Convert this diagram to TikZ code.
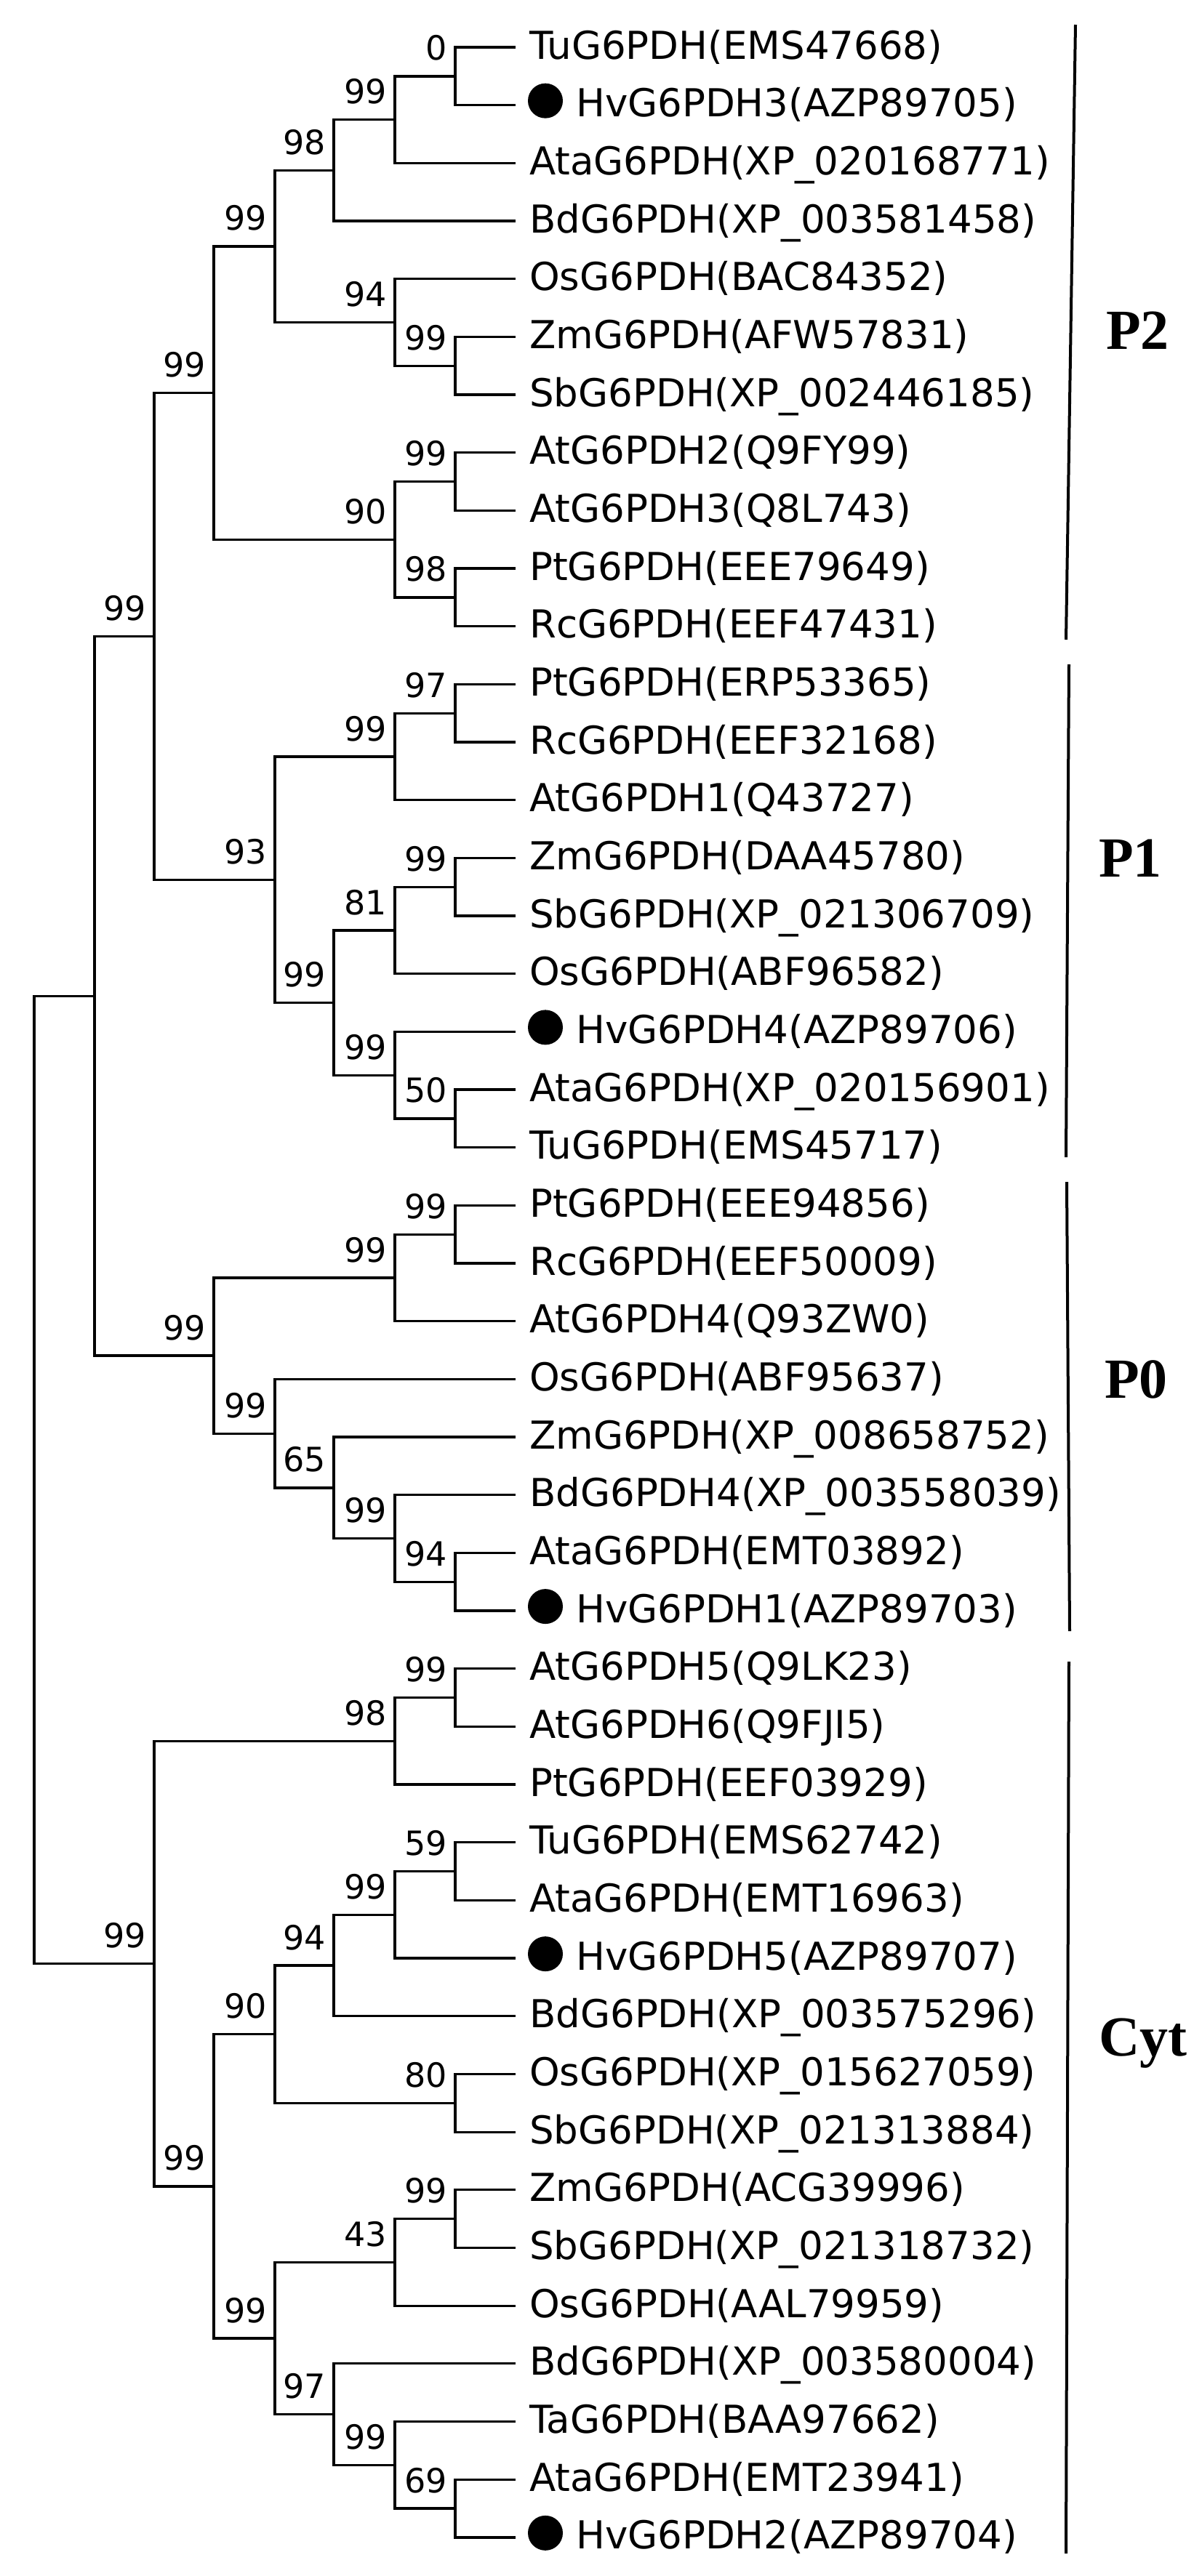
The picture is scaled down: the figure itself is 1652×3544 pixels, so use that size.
\documentclass[tikz,border=0pt]{standalone}
\usepackage{fontspec}
\setmainfont{DejaVu Sans}
\newfontfamily\cladefont{Liberation Serif}
\begin{document}
\begin{tikzpicture}[x=1pt,y=-1pt,
  br/.style={line width=3.3pt},
  leaf/.style={anchor=base west,inner sep=0pt,font=\fontsize{53}{60}\selectfont},
  bslab/.style={anchor=base east,inner sep=0pt,font=\fontsize{46}{52}\selectfont},
  dotm/.style={circle,fill=black,inner sep=0pt,minimum size=48pt},
  cbar/.style={line width=4pt},
  clab/.style={anchor=base west,inner sep=0pt,font=\cladefont\bfseries\fontsize{78}{86}\selectfont}]
\useasboundingbox (0,0) rectangle (1652,3544);
% leaf tips
\foreach \i in {0,...,43} {\coordinate (l\i) at (709,{65+79.67*\i});}
% internal nodes
\coordinate (a1) at (626,104.9);
\coordinate (a2) at (543,164.6);
\coordinate (a3) at (459,234.3);
\coordinate (a4) at (626,503.2);
\coordinate (a5) at (543,443.5);
\coordinate (a6) at (378,338.9);
\coordinate (a7) at (626,662.6);
\coordinate (a8) at (626,821.9);
\coordinate (a9) at (543,742.3);
\coordinate (a10) at (294,540.6);
\coordinate (b1) at (626,981.2);
\coordinate (b2) at (543,1041);
\coordinate (b3) at (626,1220.3);
\coordinate (b4) at (543,1280);
\coordinate (b5) at (626,1538.9);
\coordinate (b6) at (543,1479.2);
\coordinate (b7) at (459,1379.6);
\coordinate (b8) at (378,1210.3);
\coordinate (ab) at (212,875.5);
\coordinate (c1) at (626,1698.3);
\coordinate (c2) at (543,1758);
\coordinate (c3) at (626,2176.3);
\coordinate (c4) at (543,2116.6);
\coordinate (c5) at (459,2046.9);
\coordinate (c6) at (378,1972.2);
\coordinate (c7) at (294,1865.1);
\coordinate (abc) at (130,1370.3);
\coordinate (d1) at (626,2335.6);
\coordinate (d2) at (543,2395.4);
\coordinate (d3) at (626,2574.6);
\coordinate (d4) at (543,2634.4);
\coordinate (d5) at (459,2704.1);
\coordinate (d6) at (626,2893.3);
\coordinate (d7) at (378,2798.7);
\coordinate (d8) at (626,3052.7);
\coordinate (d9) at (543,3112.4);
\coordinate (d10) at (626,3451);
\coordinate (d11) at (543,3391.3);
\coordinate (d12) at (459,3321.6);
\coordinate (d13) at (378,3217);
\coordinate (d14) at (294,3007.9);
\coordinate (d15) at (212,2701.7);
\coordinate (root) at (47,2036);
% branches
\foreach \p/\c in {a1/l0,a1/l1,a2/a1,a2/l2,a3/a2,a3/l3,a4/l5,a4/l6,a5/l4,a5/a4,a6/a3,a6/a5,
  a7/l7,a7/l8,a8/l9,a8/l10,a9/a7,a9/a8,a10/a6,a10/a9,
  b1/l11,b1/l12,b2/b1,b2/l13,b3/l14,b3/l15,b4/b3,b4/l16,b5/l18,b5/l19,b6/l17,b6/b5,
  b7/b4,b7/b6,b8/b2,b8/b7,ab/a10,ab/b8,
  c1/l20,c1/l21,c2/c1,c2/l22,c3/l26,c3/l27,c4/l25,c4/c3,c5/l24,c5/c4,c6/l23,c6/c5,
  c7/c2,c7/c6,abc/ab,abc/c7,
  d1/l28,d1/l29,d2/d1,d2/l30,d3/l31,d3/l32,d4/d3,d4/l33,d5/d4,d5/l34,d6/l35,d6/l36,
  d7/d5,d7/d6,d8/l37,d8/l38,d9/d8,d9/l39,d10/l42,d10/l43,d11/l41,d11/d10,
  d12/l40,d12/d11,d13/d9,d13/d12,d14/d7,d14/d13,d15/d2,d15/d14,
  root/abc,root/d15}
  {\draw[br] (\p) |- (\c);}
% bootstrap values
\foreach \n/\v in {a1/0,a2/99,a3/98,a4/99,a5/94,a6/99,a7/99,a8/98,a9/90,a10/99,
  b1/97,b2/99,b3/99,b4/81,b5/50,b6/99,b7/99,b8/93,ab/99,
  c1/99,c2/99,c3/94,c4/99,c5/65,c6/99,c7/99,
  d1/99,d2/98,d3/59,d4/99,d5/94,d6/80,d7/90,d8/99,d9/43,d10/69,d11/99,d12/97,d13/99,d14/99,d15/99}
  {\node[bslab] (bs-\n) at ([xshift=-11pt,yshift=22pt]\n) {\v};}
% leaf labels
\node[leaf] (t0) at ([xshift=19pt,yshift=-16pt]l0) {TuG6PDH(EMS47668)};
\node[dotm] (m1) at ([xshift=41pt,yshift=6pt]l1) {};
\node[leaf] (t1) at ([xshift=83pt,yshift=-16pt]l1) {HvG6PDH3(AZP89705)};
\node[leaf] (t2) at ([xshift=19pt,yshift=-16pt]l2) {AtaG6PDH(XP\_020168771)};
\node[leaf] (t3) at ([xshift=19pt,yshift=-16pt]l3) {BdG6PDH(XP\_003581458)};
\node[leaf] (t4) at ([xshift=19pt,yshift=-16pt]l4) {OsG6PDH(BAC84352)};
\node[leaf] (t5) at ([xshift=19pt,yshift=-16pt]l5) {ZmG6PDH(AFW57831)};
\node[leaf] (t6) at ([xshift=19pt,yshift=-16pt]l6) {SbG6PDH(XP\_002446185)};
\node[leaf] (t7) at ([xshift=19pt,yshift=-16pt]l7) {AtG6PDH2(Q9FY99)};
\node[leaf] (t8) at ([xshift=19pt,yshift=-16pt]l8) {AtG6PDH3(Q8L743)};
\node[leaf] (t9) at ([xshift=19pt,yshift=-16pt]l9) {PtG6PDH(EEE79649)};
\node[leaf] (t10) at ([xshift=19pt,yshift=-16pt]l10) {RcG6PDH(EEF47431)};
\node[leaf] (t11) at ([xshift=19pt,yshift=-16pt]l11) {PtG6PDH(ERP53365)};
\node[leaf] (t12) at ([xshift=19pt,yshift=-16pt]l12) {RcG6PDH(EEF32168)};
\node[leaf] (t13) at ([xshift=19pt,yshift=-16pt]l13) {AtG6PDH1(Q43727)};
\node[leaf] (t14) at ([xshift=19pt,yshift=-16pt]l14) {ZmG6PDH(DAA45780)};
\node[leaf] (t15) at ([xshift=19pt,yshift=-16pt]l15) {SbG6PDH(XP\_021306709)};
\node[leaf] (t16) at ([xshift=19pt,yshift=-16pt]l16) {OsG6PDH(ABF96582)};
\node[dotm] (m17) at ([xshift=41pt,yshift=6pt]l17) {};
\node[leaf] (t17) at ([xshift=83pt,yshift=-16pt]l17) {HvG6PDH4(AZP89706)};
\node[leaf] (t18) at ([xshift=19pt,yshift=-16pt]l18) {AtaG6PDH(XP\_020156901)};
\node[leaf] (t19) at ([xshift=19pt,yshift=-16pt]l19) {TuG6PDH(EMS45717)};
\node[leaf] (t20) at ([xshift=19pt,yshift=-16pt]l20) {PtG6PDH(EEE94856)};
\node[leaf] (t21) at ([xshift=19pt,yshift=-16pt]l21) {RcG6PDH(EEF50009)};
\node[leaf] (t22) at ([xshift=19pt,yshift=-16pt]l22) {AtG6PDH4(Q93ZW0)};
\node[leaf] (t23) at ([xshift=19pt,yshift=-16pt]l23) {OsG6PDH(ABF95637)};
\node[leaf] (t24) at ([xshift=19pt,yshift=-16pt]l24) {ZmG6PDH(XP\_008658752)};
\node[leaf] (t25) at ([xshift=19pt,yshift=-16pt]l25) {BdG6PDH4(XP\_003558039)};
\node[leaf] (t26) at ([xshift=19pt,yshift=-16pt]l26) {AtaG6PDH(EMT03892)};
\node[dotm] (m27) at ([xshift=41pt,yshift=6pt]l27) {};
\node[leaf] (t27) at ([xshift=83pt,yshift=-16pt]l27) {HvG6PDH1(AZP89703)};
\node[leaf] (t28) at ([xshift=19pt,yshift=-16pt]l28) {AtG6PDH5(Q9LK23)};
\node[leaf] (t29) at ([xshift=19pt,yshift=-16pt]l29) {AtG6PDH6(Q9FJI5)};
\node[leaf] (t30) at ([xshift=19pt,yshift=-16pt]l30) {PtG6PDH(EEF03929)};
\node[leaf] (t31) at ([xshift=19pt,yshift=-16pt]l31) {TuG6PDH(EMS62742)};
\node[leaf] (t32) at ([xshift=19pt,yshift=-16pt]l32) {AtaG6PDH(EMT16963)};
\node[dotm] (m33) at ([xshift=41pt,yshift=6pt]l33) {};
\node[leaf] (t33) at ([xshift=83pt,yshift=-16pt]l33) {HvG6PDH5(AZP89707)};
\node[leaf] (t34) at ([xshift=19pt,yshift=-16pt]l34) {BdG6PDH(XP\_003575296)};
\node[leaf] (t35) at ([xshift=19pt,yshift=-16pt]l35) {OsG6PDH(XP\_015627059)};
\node[leaf] (t36) at ([xshift=19pt,yshift=-16pt]l36) {SbG6PDH(XP\_021313884)};
\node[leaf] (t37) at ([xshift=19pt,yshift=-16pt]l37) {ZmG6PDH(ACG39996)};
\node[leaf] (t38) at ([xshift=19pt,yshift=-16pt]l38) {SbG6PDH(XP\_021318732)};
\node[leaf] (t39) at ([xshift=19pt,yshift=-16pt]l39) {OsG6PDH(AAL79959)};
\node[leaf] (t40) at ([xshift=19pt,yshift=-16pt]l40) {BdG6PDH(XP\_003580004)};
\node[leaf] (t41) at ([xshift=19pt,yshift=-16pt]l41) {TaG6PDH(BAA97662)};
\node[leaf] (t42) at ([xshift=19pt,yshift=-16pt]l42) {AtaG6PDH(EMT23941)};
\node[dotm] (m43) at ([xshift=41pt,yshift=6pt]l43) {};
\node[leaf] (t43) at ([xshift=83pt,yshift=-16pt]l43) {HvG6PDH2(AZP89704)};
% clade bars
\coordinate (p2t) at (1479,34);   \coordinate (p2b) at (1466,880);
\coordinate (p1t) at (1470,914);  \coordinate (p1b) at (1466,1592);
\coordinate (p0t) at (1467,1626); \coordinate (p0b) at (1471,2244);
\coordinate (cyt) at (1470,2286); \coordinate (cyb) at (1466,3513);
\draw[cbar] (p2t) -- (p2b);
\draw[cbar] (p1t) -- (p1b);
\draw[cbar] (p0t) -- (p0b);
\draw[cbar] (cyt) -- (cyb);
\node[clab] (lp2) at (1521,480) {P2};
\node[clab] (lp1) at (1511,1206) {P1};
\node[clab] (lp0) at (1519,1923) {P0};
\node[clab] (lcyt) at (1511,2828) {Cyt};
\end{tikzpicture}
\end{document}
